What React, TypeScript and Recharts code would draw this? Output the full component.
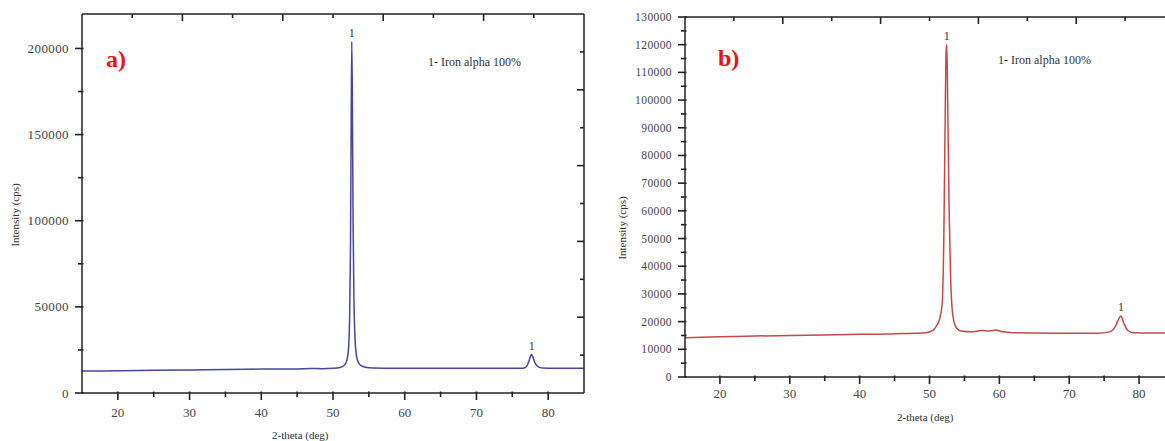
import React from 'react';
import { LineChart, Line, XAxis, YAxis, ReferenceDot } from 'recharts';

// panel a) - blue pattern
const thetaA = [15, 20, 25, 30, 35, 40, 45, 47, 48.5, 50, 51, 51.5, 51.9, 52.15, 52.32, 52.44, 52.54, 52.62, 52.7, 52.8, 52.92, 53.08, 53.3, 53.6, 54.1, 55, 58, 62, 66, 70, 74, 76.5, 77, 77.3, 77.55, 77.7, 77.9, 78.2, 78.6, 79.2, 81, 85];
const intensityA = [12700, 12900, 13200, 13400, 13600, 13900, 14000, 14200, 14100, 14300, 14800, 15800, 18500, 25000, 44000, 85000, 160000, 204000, 172000, 100000, 55000, 31000, 21000, 17200, 15500, 14700, 14400, 14300, 14300, 14300, 14300, 14400, 15400, 18200, 21500, 22300, 20500, 17200, 15300, 14500, 14300, 14300];

// panel b) - red pattern
const thetaB = [15, 20, 25, 30, 35, 40, 44, 46, 48, 49.5, 50.5, 51, 51.4, 51.8, 52.05, 52.25, 52.38, 52.48, 52.6, 52.8, 53, 53.2, 53.5, 53.9, 54.5, 56, 57.5, 58.5, 59.5, 60.5, 62, 65, 70, 74, 75.8, 76.6, 77.1, 77.4, 77.8, 78.4, 79.2, 82, 85];
const intensityB = [14200, 14500, 14800, 15000, 15200, 15400, 15500, 15700, 15800, 16000, 16800, 18500, 20500, 26000, 50000, 95000, 118000, 120000, 100000, 62000, 38000, 26000, 20000, 17600, 16600, 16300, 16800, 16600, 17000, 16300, 16000, 15900, 15800, 15800, 16300, 18300, 21000, 22000, 19500, 16800, 16000, 15900, 15900];

const xTicks = [20, 25, 30, 35, 40, 45, 50, 55, 60, 65, 70, 75, 80];
const xMajor = [20, 30, 40, 50, 60, 70, 80];
const topTicks = [22, 29, 36, 43, 50, 57, 64, 71, 78];
const topMajor = [29, 43, 57, 71];

const yTicksA = [0, 25000, 50000, 75000, 100000, 125000, 150000, 175000, 200000];
const yMajorA = [0, 50000, 100000, 150000, 200000];
const rightTicksA = [22000, 44000, 66000, 88000, 110000, 132000, 154000, 176000, 198000];
const rightMajorA = [44000, 88000, 132000, 176000];

const yTicksB = [0, 5000, 10000, 15000, 20000, 25000, 30000, 35000, 40000, 45000, 50000, 55000, 60000, 65000, 70000, 75000, 80000, 85000, 90000, 95000, 100000, 105000, 110000, 115000, 120000, 125000, 130000];
const yMajorB = [0, 10000, 20000, 30000, 40000, 50000, 60000, 70000, 80000, 90000, 100000, 110000, 120000, 130000];
const rightTicksB = [13000, 26000, 39000, 52000, 65000, 78000, 91000, 104000, 117000];
const rightMajorB = [26000, 52000, 78000, 104000];

const peaksA = [{ x: 52.62, y: 204000 }, { x: 77.7, y: 22300 }];
const peaksB = [{ x: 52.48, y: 120000 }, { x: 77.4, y: 22000 }];

const dataA = thetaA.map((x, i) => ({ x, y: intensityA[i] }));
const dataB = thetaB.map((x, i) => ({ x, y: intensityB[i] }));

const serif = 'Liberation Serif, Times New Roman, serif';
const axisColor = '#222';

type Side = 'left' | 'bottom' | 'top' | 'right';

const makeTick = (side: Side, majors: number[], fontSize = 12, gap = 12) =>
  function Tick(props: any) {
    const x = Number(props.x);
    const y = Number(props.y);
    const v = props.payload.value;
    const major = majors.includes(v);
    const len = major ? 7 : 4;
    let d = '';
    if (side === 'left') d = `M${x + 1.5},${y}L${x - len},${y}`;
    if (side === 'right') d = `M${x},${y}L${x - len},${y}`;
    if (side === 'bottom') d = `M${x},${y - 1.5}L${x},${y + len}`;
    if (side === 'top') d = `M${x},${y}L${x},${y + len}`;
    return (
      <g>
        <path d={d} stroke={axisColor} strokeWidth={1.6} fill="none" />
        {major && side === 'left' && (
          <text x={x - gap} y={y} textAnchor="end" dominantBaseline="central" fontSize={fontSize} fontFamily={serif} fill="#444" letterSpacing={0.4}>
            {v}
          </text>
        )}
        {major && side === 'bottom' && (
          <text x={x} y={y + gap} textAnchor="middle" dominantBaseline="central" fontSize={fontSize} fontFamily={serif} fill="#444">
            {v}
          </text>
        )}
      </g>
    );
  };

const PeakLabel = (props: any) => {
  const { viewBox } = props;
  const cx = viewBox.x + (viewBox.width || 0) / 2;
  return (
    <text x={cx} y={viewBox.y - 5} textAnchor="middle" fontSize={12} fontFamily={serif} fill="#333">
      1
    </text>
  );
};

const Overlay = ({ left, top, size, children, rotate, color = '#333', bold }: any) => (
  <div
    style={{
      position: 'absolute',
      left,
      top,
      fontFamily: serif,
      fontSize: size,
      fontWeight: bold ? 'bold' : 'normal',
      color,
      lineHeight: 1,
      whiteSpace: 'nowrap',
      transform: rotate ? 'translate(-50%, -50%) rotate(-90deg)' : undefined,
    }}
  >
    {children}
  </div>
);

function Panel({ data, color, yMax, yTicks, yMajor, rTicks, rMajor, peaks, width, top, yWidth, xHeight, xGap, yFont }: any) {
  return (
    <LineChart width={width} height={441} data={data} margin={{ top, right: 5, bottom: 0, left: 0 }}>
      <XAxis
        xAxisId="b"
        type="number"
        dataKey="x"
        domain={[15, 85]}
        ticks={xTicks}
        interval={0}
        allowDataOverflow
        height={xHeight}
        tickSize={0}
        tickMargin={0}
        tickLine={false}
        axisLine={{ stroke: axisColor, strokeWidth: 1.5 }}
        tick={makeTick('bottom', xMajor, 13, xGap)}
      />
      <XAxis
        xAxisId="t"
        orientation="top"
        type="number"
        dataKey="x"
        domain={[15, 85]}
        ticks={topTicks}
        interval={0}
        allowDataOverflow
        height={1}
        tickSize={0}
        tickMargin={0}
        tickLine={false}
        axisLine={{ stroke: axisColor, strokeWidth: 1.5 }}
        tick={makeTick('top', topMajor)}
      />
      <YAxis
        yAxisId="l"
        type="number"
        domain={[0, yMax]}
        ticks={yTicks}
        interval={0}
        allowDataOverflow
        width={yWidth}
        tickSize={0}
        tickMargin={0}
        tickLine={false}
        axisLine={{ stroke: axisColor, strokeWidth: 1.5 }}
        tick={makeTick('left', yMajor, yFont, 13)}
      />
      <YAxis
        yAxisId="r"
        orientation="right"
        type="number"
        domain={[0, yMax]}
        ticks={rTicks}
        interval={0}
        allowDataOverflow
        width={1}
        tickSize={0}
        tickMargin={0}
        tickLine={false}
        axisLine={{ stroke: axisColor, strokeWidth: 1.5 }}
        tick={makeTick('right', rMajor)}
      />
      <Line xAxisId="t" yAxisId="r" dataKey="y" stroke="none" dot={false} isAnimationActive={false} />
      <Line xAxisId="b" yAxisId="l" type="monotone" dataKey="y" stroke={color} strokeWidth={1.5} dot={false} isAnimationActive={false} />
      {peaks.map((p: any, i: number) => (
        <ReferenceDot key={i} xAxisId="b" yAxisId="l" x={p.x} y={p.y} r={0} stroke="none" label={<PeakLabel />} />
      ))}
    </LineChart>
  );
}

export default function App() {
  return (
    <div style={{ position: 'absolute', left: 0, top: 0, width: 1165, height: 441, overflow: 'hidden', background: '#fff' }}>
      <div style={{ position: 'absolute', left: 0, top: 0 }}>
        <Panel
          data={dataA}
          color="#4646a0"
          yMax={220000}
          yTicks={yTicksA}
          yMajor={yMajorA}
          rTicks={rightTicksA}
          rMajor={rightMajorA}
          peaks={peaksA}
          width={590}
          top={13}
          yWidth={82}
          xHeight={48}
          xGap={19}
          yFont={13}
        />
      </div>
      <div style={{ position: 'absolute', left: 600, top: 0 }}>
        <Panel
          data={dataB}
          color="#c44a4a"
          yMax={130000}
          yTicks={yTicksB}
          yMajor={yMajorB}
          rTicks={rightTicksB}
          rMajor={rightMajorB}
          peaks={peaksB}
          width={580}
          top={16}
          yWidth={85}
          xHeight={64}
          xGap={16}
          yFont={11.5}
        />
      </div>
      <Overlay left={106} top={47} size={24} bold color="#ee1111">a)</Overlay>
      <Overlay left={718} top={46} size={24} bold color="#ee1111">b)</Overlay>
      <Overlay left={428} top={56} size={12}>1- Iron alpha 100%</Overlay>
      <Overlay left={998} top={54} size={12}>1- Iron alpha 100%</Overlay>
      <Overlay left={15} top={215} size={11} rotate>Intensity (cps)</Overlay>
      <Overlay left={622} top={228} size={11} rotate>Intensity (cps)</Overlay>
      <Overlay left={272} top={430} size={11}>2-theta (deg)</Overlay>
      <Overlay left={897} top={412} size={11}>2-theta (deg)</Overlay>
    </div>
  );
}
